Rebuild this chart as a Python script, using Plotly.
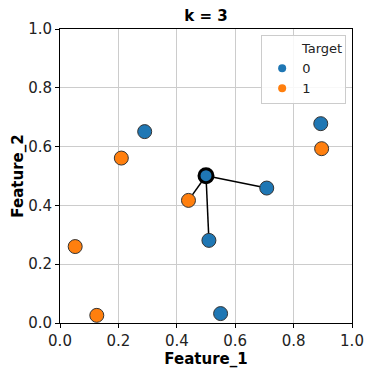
import numpy as np
import plotly.graph_objects as go

feature_1 = [0.29, 0.21, 0.893, 0.896, 0.708, 0.44, 0.51, 0.052, 0.126, 0.55]
feature_2 = [0.651, 0.561, 0.678, 0.593, 0.459, 0.417, 0.281, 0.26, 0.026, 0.032]
target = [0, 1, 0, 1, 0, 1, 0, 1, 1, 0]
query = [0.5, 0.501]
k = 3
legend_title = "Target"

colors = {0: "#1f77b4", 1: "#ff7f0e"}
tick_vals = [0.0, 0.2, 0.4, 0.6, 0.8, 1.0]

f1 = np.array(feature_1)
f2 = np.array(feature_2)
t = np.array(target)
dist = np.hypot(f1 - query[0], f2 - query[1])
nn = np.argsort(dist)[:k]

fig = go.Figure()
lx, ly = [], []
for i in nn:
    lx += [query[0], f1[i], None]
    ly += [query[1], f2[i], None]
fig.add_trace(go.Scatter(x=lx, y=ly, mode="lines", line=dict(color="black", width=1.5),
                         showlegend=False, hoverinfo="skip"))
for cls in [0, 1]:
    m = t == cls
    fig.add_trace(go.Scatter(x=f1[m], y=f2[m], mode="markers",
                             marker=dict(color=colors[cls], size=14, line=dict(color="#333333", width=1)),
                             showlegend=False))
pred = int(np.round(t[nn].mean()))
fig.add_trace(go.Scatter(x=[query[0]], y=[query[1]], mode="markers",
                         marker=dict(color=colors[pred], size=14, line=dict(color="black", width=3)),
                         showlegend=False))
for cls in [0, 1]:
    fig.add_trace(go.Scatter(x=[None], y=[None], mode="markers", name=str(cls) + "\u00a0" * 7,
                             marker=dict(color=colors[cls], size=8)))

axis_common = dict(range=[0, 1], tickvals=tick_vals, ticktext=[f"{v:.1f}" for v in tick_vals],
                   showline=True, linecolor="black", linewidth=1, mirror=True,
                   ticks="outside", ticklen=4, tickcolor="black",
                   showgrid=True, gridcolor="#cccccc", gridwidth=1, zeroline=False,
                   automargin=False,
                   tickfont=dict(size=15, color="#222222", family="DejaVu Sans"))
fig.update_xaxes(**axis_common,
                 title=dict(text="<b>Feature_1</b>", standoff=0,
                            font=dict(size=15, color="black", family="DejaVu Sans")))
fig.update_yaxes(**axis_common,
                 title=dict(text="<b>Feature_2</b>", standoff=0,
                            font=dict(size=15, color="black", family="DejaVu Sans")))

fig.update_layout(
    width=375, height=375,
    margin=dict(l=60, r=23, t=29, b=52, autoexpand=False),
    plot_bgcolor="white", paper_bgcolor="white",
    title=dict(text=f"<b>k = {k}</b>", x=0.5, xref="paper", xanchor="center", y=0.957, yanchor="middle",
               font=dict(size=15, color="black", family="DejaVu Sans")),
    legend=dict(x=0.98, y=0.978, xanchor="right", yanchor="top",
                bgcolor="rgba(255,255,255,0.85)", bordercolor="#cccccc", borderwidth=1,
                title=dict(text=legend_title, side="top right",
                           font=dict(size=13, color="#222222", family="DejaVu Sans")),
                font=dict(size=13, color="#222222", family="DejaVu Sans"),
                itemsizing="trace", itemwidth=30, tracegroupgap=0),
    font=dict(family="DejaVu Sans"),
)

fig.write_html("out.html", config={"displayModeBar": False},
               post_script="document.body.style.margin='0';document.body.style.padding='0';")
